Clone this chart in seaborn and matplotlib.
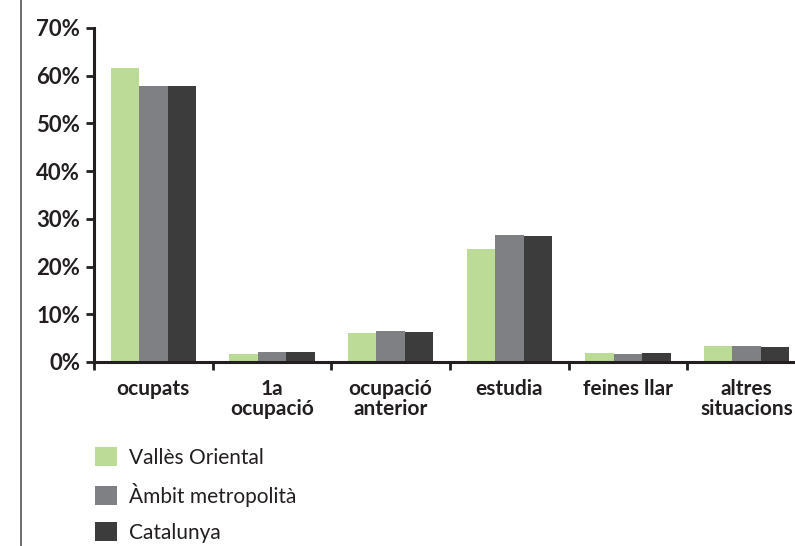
import pandas as pd
import seaborn as sns
import matplotlib.pyplot as plt
from matplotlib.lines import Line2D

# data (percent)
categories = ['ocupats', '1a\nocupació', 'ocupació\nanterior', 'estudia',
              'feines llar', 'altres\nsituacions']
series = ['Vallès Oriental', 'Àmbit metropolità', 'Catalunya']
valles = [61.6, 1.7, 6.1, 23.7, 1.9, 3.4]
ambit = [57.9, 2.1, 6.5, 26.6, 1.7, 3.4]
catalunya = [57.9, 2.1, 6.3, 26.4, 1.9, 3.1]
colors = ['#bbdb97', '#7f8084', '#3c3c3c']

df = pd.DataFrame({'categoria': categories * 3,
                   'zona': [s for s in series for _ in categories],
                   'valor': valles + ambit + catalunya})

sns.set_style('white')
plt.rcParams['font.family'] = ['Lato', 'DejaVu Sans']

fig = plt.figure(figsize=(7.95, 5.46), dpi=100)
ax = fig.add_axes([94 / 795, 1 - 362 / 546, 712 / 795, 334 / 546])

sns.barplot(data=df, x='categoria', y='valor', hue='zona', palette=colors,
            width=0.72, linewidth=0, saturation=1, ax=ax, legend=True)

ax.set_xlim(-0.5, 5.5)
ax.set_ylim(0, 70)
ax.set_yticks(range(0, 71, 10))
ax.set_yticklabels([f'{v}%' for v in range(0, 71, 10)], fontsize=16,
                   fontweight='bold', color='#231f20')
ax.set_xticks(range(len(categories)))
ax.set_xticklabels(categories, fontsize=15, fontweight='bold',
                   color='#231f20', linespacing=1.05)
ax.set_xticks([i - 0.5 for i in range(len(categories))], minor=True)
ax.tick_params(axis='x', which='major', length=0, pad=12)
ax.tick_params(axis='x', which='minor', length=6, width=2, color='#231f20',
               direction='out', bottom=True)
ax.tick_params(axis='y', length=6, width=2, color='#231f20', direction='out',
               left=True, pad=4)
ax.set_xlabel('')
ax.set_ylabel('')

for s in ['top', 'right']:
    ax.spines[s].set_visible(False)
for s in ['left', 'bottom']:
    ax.spines[s].set_linewidth(2.2)
    ax.spines[s].set_color('#231f20')

handles, labels = ax.get_legend_handles_labels()
ax.get_legend().remove()
fig.legend(handles, labels, loc='upper left',
           bbox_to_anchor=(95 / 795, 1 - 447 / 546), frameon=False,
           fontsize=15, handlelength=1.06, handleheight=1.06,
           handletextpad=0.58, labelspacing=0.72, labelcolor='#231f20',
           borderpad=0, borderaxespad=0)

fig.add_artist(Line2D([21 / 795, 21 / 795], [0, 1], color='#555555', lw=1.2))

fig.savefig('out.png', dpi=100)
